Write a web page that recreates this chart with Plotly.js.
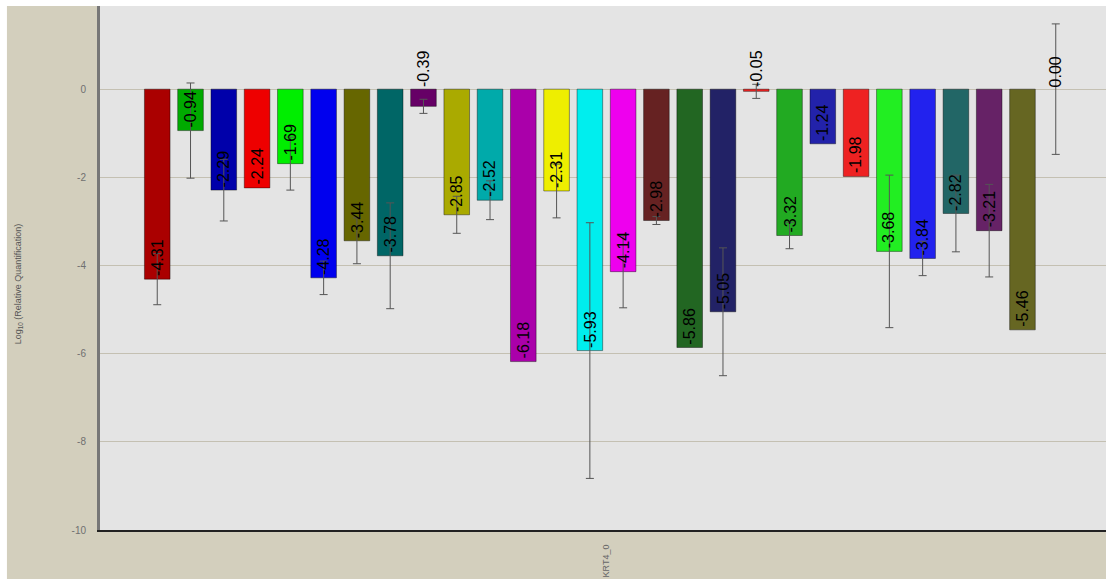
<!DOCTYPE html>
<html>
<head>
<meta charset="utf-8">
<script src="https://cdn.plot.ly/plotly-3.0.1.min.js"></script>
<style>
  html, body { margin: 0; padding: 0; background: #ffffff; }
  #chart { width: 1106px; height: 579px; }
</style>
</head>
<body>
<div id="chart"></div>
<script>
// Sample order within the KRT4_0 target
const sampleIndex = [1,2,3,4,5,6,7,8,9,10,11,12,13,14,15,16,17,18,19,20,21,22,23,24,25,26,27,28];

// Log10 relative quantification per sample
const rqValues = [-4.31,-0.94,-2.29,-2.24,-1.69,-4.28,-3.44,-3.78,-0.39,-2.85,-2.52,-6.18,-2.31,-5.93,-4.14,-2.98,-5.86,-5.05,-0.05,-3.32,-1.24,-1.98,-3.68,-3.84,-2.82,-3.21,-5.46,0.00];

// Symmetric error (null where no error bar is shown)
const rqErrors = [0.58,1.08,0.70,null,0.60,0.38,0.52,1.20,0.16,0.42,0.44,null,0.61,2.90,0.82,0.09,null,1.45,0.16,0.30,null,null,1.73,0.39,0.87,1.05,null,1.48];

// Bar fill colours
const barColors = ['#aa0000','#00aa00','#0000aa','#ee0000','#00ee00','#0000ee','#666600','#006666','#660066',
  '#aaaa00','#00aaaa','#aa00aa','#eeee00','#00eeee','#ee00ee','#662222','#226622','#222266',
  '#ee2222','#22aa22','#2222aa','#ee2222','#22ee22','#2222ee','#226666','#662266','#666622','#aaaaaa'];

const targetName = ['KRT4_0'];

const bars = {
  type: 'bar',
  x: sampleIndex,
  y: rqValues,
  width: 0.77,
  marker: {
    color: barColors,
    // a zero-height bar leaves no outline
    line: { color: 'rgba(0,0,0,0.4)', width: rqValues.map(v => (v === 0 ? 0 : 1)) }
  },
  hoverinfo: 'x+y'
};

// Error bars only for samples that carry an error estimate
const errorMarks = {
  type: 'scatter',
  mode: 'markers',
  x: sampleIndex,
  y: rqValues.map((v, i) => (rqErrors[i] == null ? null : v)),
  marker: { size: 1, color: 'rgba(0,0,0,0)' },
  error_y: { type: 'data', array: rqErrors.map(e => (e == null ? 0 : e)), visible: true, color: '#555555', thickness: 1, width: 4 },
  hoverinfo: 'skip'
};

// Value labels, rotated; short bars get their label above the zero line
const valueLabels = rqValues.map((v, i) => {
  const small = Math.abs(v) < 0.5;
  return {
    x: sampleIndex[i], y: small ? 0 : v,
    xref: 'x', yref: 'y',
    text: v.toFixed(2),
    textangle: -90,
    showarrow: false,
    xanchor: 'center', yanchor: 'bottom',
    yshift: small ? 1 : 2,
    borderpad: 0,
    font: { family: 'Liberation Sans, Arial, sans-serif', size: 16, color: '#000000' }
  };
});

const layout = {
  width: 1106, height: 579,
  margin: { l: 100, r: 0, t: 6, b: 49, pad: 0 },
  paper_bgcolor: '#d3cfbd',
  plot_bgcolor: '#e4e4e4',
  showlegend: false,
  barmode: 'overlay',
  xaxis: {
    range: [-0.72, 29.51],
    tickvals: [14.5],
    ticktext: targetName,
    tickangle: -90,
    ticks: '',
    ticklabelstandoff: 9,
    tickfont: { family: 'Liberation Sans, Arial, sans-serif', size: 9, color: '#666666' },
    showgrid: false, zeroline: false,
    showline: true, linecolor: '#222222', linewidth: 2
  },
  yaxis: {
    range: [-10, 1.886],
    tickvals: [-10, -8, -6, -4, -2, 0],
    ticktext: ['-10', '-8', '-6', '-4', '-2', '0'],
    ticks: '',
    ticklabelstandoff: 9,
    tickfont: { family: 'Liberation Sans, Arial, sans-serif', size: 10, color: '#707070' },
    showgrid: true, gridcolor: '#c4c0b2', gridwidth: 1,
    zeroline: false,
    showline: true, linecolor: '#777777', linewidth: 3
  },
  shapes: [
    // white frame strips along the top and left edges
    { type: 'rect', xref: 'paper', yref: 'paper', x0: -0.1, x1: 1.0, y0: 1.0, y1: 1.02, fillcolor: '#ffffff', line: { width: 0 } },
    { type: 'rect', xref: 'paper', yref: 'paper', x0: -0.1, x1: -0.0925, y0: -0.1, y1: 1.02, fillcolor: '#ffffff', line: { width: 0 } }
  ],
  annotations: valueLabels.concat([{
    xref: 'paper', yref: 'paper',
    x: 0, xshift: -82, y: 0.469,
    text: 'Log<sub>10</sub> (Relative Quantification)',
    textangle: -90, showarrow: false,
    xanchor: 'center', yanchor: 'middle',
    font: { family: 'Liberation Sans, Arial, sans-serif', size: 9, color: '#555555' }
  }])
};

Plotly.newPlot('chart', [bars, errorMarks], layout, { displayModeBar: false, staticPlot: true });
</script>
</body>
</html>
